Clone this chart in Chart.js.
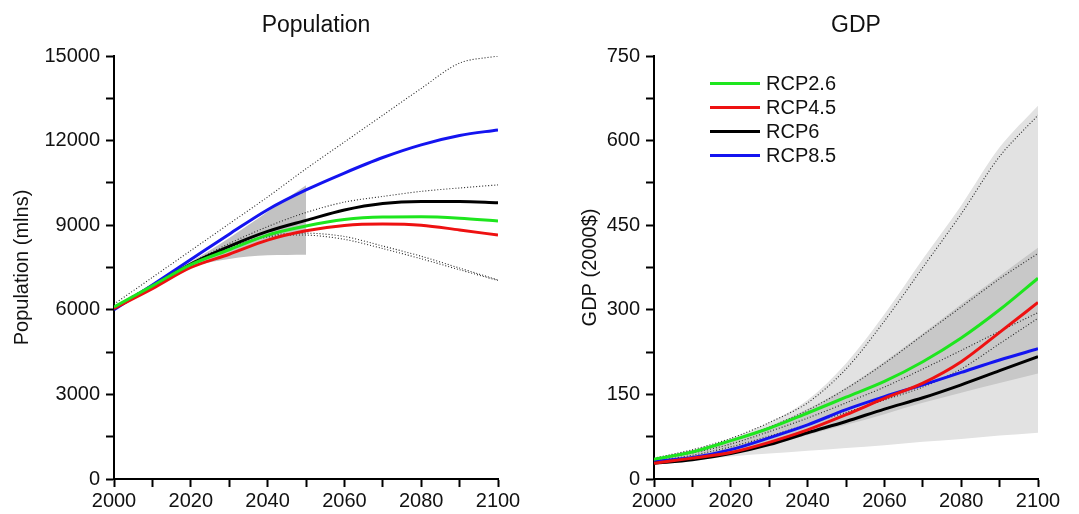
<!DOCTYPE html>
<html>
<head>
<meta charset="utf-8">
<script src="https://cdn.jsdelivr.net/npm/chart.js@4"></script>
<style>
  html, body { margin: 0; padding: 0; background: #fff; }
  #wrapL { position: absolute; left: 0; top: 0; width: 540px; height: 514px; }
  #wrapR { position: absolute; left: 540px; top: 0; width: 539px; height: 514px; }
</style>
</head>
<body>
<div id="wrapL"><canvas id="popChart"></canvas></div>
<div id="wrapR"><canvas id="gdpChart"></canvas></div>
<script>
// ---------- data ----------
const years = [2000, 2010, 2020, 2030, 2040, 2050, 2060, 2070, 2080, 2090, 2100];
const scenarioLabels = ['RCP2.6', 'RCP4.5', 'RCP6', 'RCP8.5'];
const scenarioColors = ['#1ee61e', '#ee1111', '#000000', '#1414f0'];

// Population (mlns)
const popRCP26 = [6100, 6850, 7600, 8130, 8650, 8970, 9200, 9290, 9300, 9250, 9150];
const popRCP45 = [6050, 6750, 7500, 7970, 8470, 8800, 8990, 9040, 9000, 8830, 8650];
const popRCP6  = [6050, 6820, 7620, 8250, 8780, 9170, 9540, 9770, 9840, 9840, 9800];
const popRCP85 = [6000, 6880, 7780, 8680, 9550, 10250, 10850, 11400, 11850, 12180, 12380];
const popDotHigh = [6200, 7150, 8100, 9050, 10000, 11000, 11950, 12900, 13850, 14750, 15000];
const popDotMid  = [6100, 6900, 7650, 8350, 8950, 9450, 9820, 10020, 10200, 10320, 10430];
const popDotLowA = [6100, 6850, 7600, 8200, 8620, 8720, 8600, 8260, 7900, 7480, 7060];
const popDotLowB = [6100, 6850, 7600, 8200, 8580, 8650, 8500, 8170, 7810, 7420, 7040];
const popBandYears = [2000, 2010, 2020, 2030, 2040, 2050];
const popBandHigh = [6050, 6850, 7700, 8550, 9480, 10420];
const popBandLow  = [6050, 6800, 7500, 7800, 7930, 7950];
const popTicks = [0, 3000, 6000, 9000, 12000, 15000];

// GDP (2000$)
const gdpRCP26 = [35, 48, 68, 90, 117, 145, 173, 208, 250, 300, 356];
const gdpRCP45 = [28, 37, 47, 65, 87, 114, 143, 170, 208, 260, 313];
const gdpRCP6  = [28, 34, 45, 61, 82, 102, 124, 144, 167, 192, 217];
const gdpRCP85 = [31, 38, 52, 73, 96, 123, 146, 167, 189, 211, 231];
const gdpDotA = [37, 52, 72, 100, 135, 195, 280, 375, 470, 572, 645];
const gdpDotB = [36, 50, 67, 92, 122, 160, 205, 255, 305, 355, 400];
const gdpDotC = [34, 46, 62, 84, 108, 135, 163, 195, 228, 262, 295];
const gdpDotD = [32, 42, 57, 76, 97, 118, 140, 163, 195, 240, 285];
const gdpLightHigh = [37, 52, 72, 100, 140, 205, 292, 390, 485, 588, 662];
const gdpLightLow  = [28, 33, 40, 45, 50, 55, 60, 66, 71, 77, 82];
const gdpDarkHigh  = [35, 48, 66, 93, 124, 162, 208, 258, 310, 360, 410];
const gdpDarkLow   = [30, 36, 45, 60, 78, 96, 115, 135, 153, 170, 187];
const gdpTicks = [0, 150, 300, 450, 600, 750];

const xTicks = [2000, 2020, 2040, 2060, 2080, 2100];

// ---------- helpers ----------
const FONT = "'Liberation Sans', Arial, Helvetica, sans-serif";
function pts(xs, ys) { return xs.map((x, i) => ({ x: x, y: ys[i] })); }

function mainLine(label, ys, color) {
  return { label: label, data: pts(years, ys), borderColor: color, borderWidth: 3,
           pointRadius: 0, fill: false, cubicInterpolationMode: 'monotone', isMain: true };
}
function dotLine(ys) {
  return { label: '', data: pts(years, ys), borderColor: '#262626', borderWidth: 1.1,
           borderDash: [1, 2], pointRadius: 0, fill: false, tension: 0.3 };
}
function bandEdge(xs, ys, fillColor, fillTarget) {
  return { label: '', data: pts(xs, ys), borderColor: 'rgba(0,0,0,0)', borderWidth: 0,
           backgroundColor: fillColor, pointRadius: 0, fill: fillTarget,
           cubicInterpolationMode: 'monotone' };
}

// chart title drawn centred a little right of the plot centre, as in the reference
const topTitle = {
  id: 'topTitle',
  afterDraw(chart, args, opts) {
    const ctx = chart.ctx;
    const a = chart.chartArea;
    ctx.save();
    ctx.font = '23px ' + FONT;
    ctx.fillStyle = '#111';
    ctx.textAlign = 'center';
    ctx.textBaseline = 'middle';
    ctx.fillText(opts.text, (a.left + a.right) / 2 + 10, 26);
    ctx.restore();
  }
};

function makeOptions(cfg) {
  return {
    responsive: true,
    maintainAspectRatio: false,
    animation: false,
    events: [],
    layout: { padding: { left: cfg.padLeft, right: cfg.padRight, top: 56, bottom: 0 } },
    plugins: {
      legend: { display: false },
      tooltip: { enabled: false },
      title: { display: false },
      topTitle: { text: cfg.title }
    },
    scales: {
      x: {
        type: 'linear', min: 2000, max: 2100,
        afterFit: (s) => { s.height = 35; },
        afterBuildTicks: (s) => { s.ticks = years.map(v => ({ value: v })); },
        ticks: {
          autoSkip: false, maxRotation: 0, padding: 2, color: '#111',
          font: { family: FONT, size: 20 },
          callback: (v) => xTicks.includes(v) ? String(v) : ''
        },
        grid: { display: true, drawOnChartArea: false, drawTicks: true, tickLength: 8,
                tickColor: '#000', tickWidth: 2 },
        border: { display: true, color: '#000', width: 2 }
      },
      y: {
        type: 'linear', min: 0, max: cfg.yMax,
        afterFit: (s) => { s.width = cfg.yWidth; },
        afterBuildTicks: (s) => {
          const out = [];
          for (let i = 0; i < cfg.yTicks.length; i++) {
            out.push({ value: cfg.yTicks[i] });
            if (i < cfg.yTicks.length - 1) out.push({ value: (cfg.yTicks[i] + cfg.yTicks[i + 1]) / 2 });
          }
          s.ticks = out;
        },
        ticks: {
          autoSkip: false, padding: 6, color: '#111',
          font: { family: FONT, size: 20 },
          callback: (v) => cfg.yTicks.includes(v) ? String(v) : ''
        },
        grid: { display: true, drawOnChartArea: false, drawTicks: true, tickLength: 8,
                tickColor: '#000', tickWidth: 2 },
        border: { display: true, color: '#000', width: 2 },
        title: { display: true, text: cfg.yTitle, color: '#111',
                 font: { family: FONT, size: 20 }, padding: { top: 10, bottom: 0 } }
      }
    }
  };
}

// legend drawn inside the GDP plot area
const insideLegend = {
  id: 'insideLegend',
  afterDraw(chart) {
    const ctx = chart.ctx;
    const mains = chart.data.datasets.filter(d => d.isMain);
    ctx.save();
    ctx.font = '20px ' + FONT;
    ctx.textBaseline = 'middle';
    ctx.textAlign = 'left';
    mains.forEach((d, i) => {
      const y = 83.5 + i * 24;
      ctx.strokeStyle = d.borderColor;
      ctx.lineWidth = 3;
      ctx.beginPath();
      ctx.moveTo(170, y);
      ctx.lineTo(220, y);
      ctx.stroke();
      ctx.fillStyle = '#111';
      ctx.fillText(d.label, 226, y + 1);
    });
    ctx.restore();
  }
};

// ---------- Population ----------
new Chart(document.getElementById('popChart'), {
  type: 'line',
  data: {
    datasets: [
      mainLine(scenarioLabels[0], popRCP26, scenarioColors[0]),
      mainLine(scenarioLabels[1], popRCP45, scenarioColors[1]),
      mainLine(scenarioLabels[2], popRCP6, scenarioColors[2]),
      mainLine(scenarioLabels[3], popRCP85, scenarioColors[3]),
      dotLine(popDotHigh),
      dotLine(popDotMid),
      dotLine(popDotLowA),
      dotLine(popDotLowB),
      bandEdge(popBandYears, popBandHigh, '#c2c2c2', '+1'),
      bandEdge(popBandYears, popBandLow, '#c2c2c2', false)
    ]
  },
  options: makeOptions({ title: 'Population', yTitle: 'Population (mlns)', yMax: 15000,
                         yTicks: popTicks, yWidth: 114, padLeft: 0, padRight: 42 }),
  plugins: [topTitle]
});

// ---------- GDP ----------
new Chart(document.getElementById('gdpChart'), {
  type: 'line',
  data: {
    datasets: [
      mainLine(scenarioLabels[0], gdpRCP26, scenarioColors[0]),
      mainLine(scenarioLabels[1], gdpRCP45, scenarioColors[1]),
      mainLine(scenarioLabels[2], gdpRCP6, scenarioColors[2]),
      mainLine(scenarioLabels[3], gdpRCP85, scenarioColors[3]),
      dotLine(gdpDotA),
      dotLine(gdpDotB),
      dotLine(gdpDotC),
      dotLine(gdpDotD),
      bandEdge(years, gdpDarkHigh, '#c8c8c8', '+1'),
      bandEdge(years, gdpDarkLow, '#c8c8c8', false),
      bandEdge(years, gdpLightHigh, '#e2e2e2', '+1'),
      bandEdge(years, gdpLightLow, '#e2e2e2', false)
    ]
  },
  options: makeOptions({ title: 'GDP', yTitle: 'GDP (2000$)', yMax: 750,
                         yTicks: gdpTicks, yWidth: 86, padLeft: 28, padRight: 41 }),
  plugins: [insideLegend, topTitle]
});
</script>
</body>
</html>
